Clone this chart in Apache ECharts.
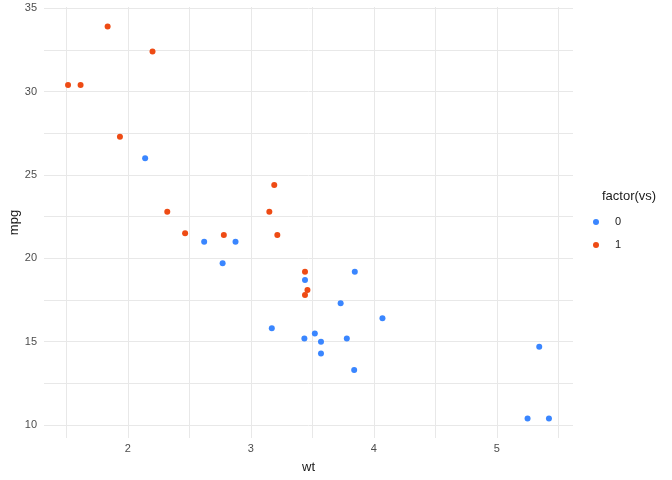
<!DOCTYPE html>
<html>
<head>
<meta charset="utf-8">
<script src="https://cdn.jsdelivr.net/npm/echarts@6/dist/echarts.min.js"></script>
<style>
  html, body { margin: 0; padding: 0; background: #fff; }
  #chart { width: 672px; height: 480px; }
</style>
</head>
<body>
<div id="chart"></div>
<script>
// vs = 0
const wt0 = [2.620, 2.875, 3.440, 3.570, 4.070, 3.730, 3.780, 5.250, 5.424, 5.345, 3.520, 3.435, 3.840, 3.845, 2.140, 3.170, 2.770, 3.570];
const mpg0 = [21.0, 21.0, 18.7, 14.3, 16.4, 17.3, 15.2, 10.4, 10.4, 14.7, 15.5, 15.2, 13.3, 19.2, 26.0, 15.8, 19.7, 15.0];
// vs = 1
const wt1 = [2.320, 3.215, 3.460, 3.190, 3.150, 3.440, 3.440, 2.200, 1.615, 1.835, 2.465, 1.935, 1.513, 2.780];
const mpg1 = [22.8, 21.4, 18.1, 24.4, 22.8, 19.2, 17.8, 32.4, 30.4, 33.9, 21.5, 27.3, 30.4, 21.4];

const groups = ["0", "1"];
const xBreaks = [2, 3, 4, 5];
const xGrid = [1.5, 2, 2.5, 3, 3.5, 4, 4.5, 5, 5.5];
const yBreaks = [10, 15, 20, 25, 30, 35];
const yGrid = [10, 12.5, 15, 17.5, 20, 22.5, 25, 27.5, 30, 32.5, 35];

const colors = ["#3a86ff", "#ee4b14"];

// ggplot style 5% expansion
const expand = (vals) => {
  const lo = Math.min(...vals), hi = Math.max(...vals);
  const pad = (hi - lo) * 0.05;
  return [lo - pad, hi + pad];
};
const xr = expand(wt0.concat(wt1));
const yr = expand(mpg0.concat(mpg1));

const zip = (a, b) => a.map((v, i) => [v, b[i]]);

const chart = echarts.init(document.getElementById("chart"));

const gridLine = { show: true, lineStyle: { color: "#e8e8e8", width: 1 } };
const tickLabel = { color: "#4d4d4d", fontSize: 11, fontFamily: "Liberation Sans" };

chart.setOption({
  animation: false,
  title: {
    text: "factor(vs)",
    left: 602,
    top: 190,
    padding: 0,
    textStyle: { fontSize: 13, fontWeight: "normal", color: "#1a1a1a", fontFamily: "Liberation Sans" },
  },
  legend: {
    data: groups,
    orient: "vertical",
    left: 593,
    top: 215,
    padding: 0,
    itemWidth: 28,
    itemHeight: 6,
    itemGap: 9,
    icon: "circle",
    textStyle: { fontSize: 11, color: "#1a1a1a", lineHeight: 14, fontFamily: "Liberation Sans" },
  },
  grid: { left: 44, right: 99, top: 7, bottom: 42, containLabel: false, outerBoundsMode: "none" },
  xAxis: {
    type: "value",
    min: xr[0],
    max: xr[1],
    name: "wt",
    nameLocation: "middle",
    nameGap: 23,
    nameMoveOverlap: false,
    nameTextStyle: { fontSize: 13, color: "#1a1a1a", fontFamily: "Liberation Sans" },
    axisLine: { show: false },
    axisTick: { show: false, customValues: xGrid },
    axisLabel: Object.assign({ customValues: xBreaks, margin: 5 }, tickLabel),
    splitLine: gridLine,
  },
  yAxis: {
    type: "value",
    min: yr[0],
    max: yr[1],
    name: "mpg",
    nameLocation: "middle",
    nameGap: 23,
    nameMoveOverlap: false,
    nameTextStyle: { fontSize: 13, color: "#1a1a1a", fontFamily: "Liberation Sans" },
    axisLine: { show: false },
    axisTick: { show: false, customValues: yGrid },
    axisLabel: Object.assign({ customValues: yBreaks, margin: 7 }, tickLabel),
    splitLine: gridLine,
  },
  series: [
    {
      name: groups[0],
      type: "scatter",
      symbolSize: 6,
      itemStyle: { color: colors[0], opacity: 1 },
      data: zip(wt0, mpg0),
    },
    {
      name: groups[1],
      type: "scatter",
      symbolSize: 6,
      itemStyle: { color: colors[1], opacity: 1 },
      data: zip(wt1, mpg1),
    },
  ],
});
</script>
</body>
</html>
